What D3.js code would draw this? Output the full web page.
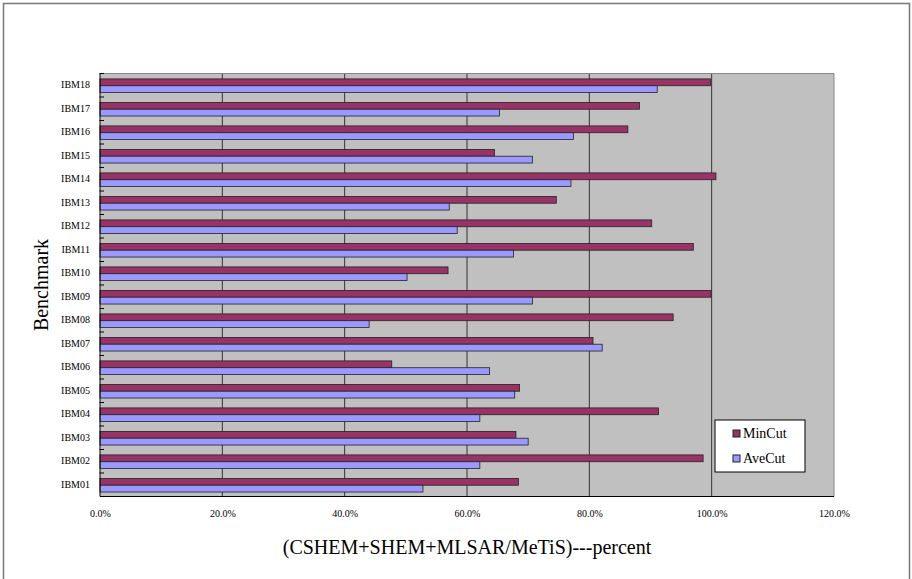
<!DOCTYPE html>
<html>
<head>
<meta charset="utf-8">
<script src="https://cdn.jsdelivr.net/npm/d3@7"></script>
<style>
  body { margin: 0; background: #fff; }
</style>
</head>
<body>
<div id="vis"></div>
<script>
// benchmark chart, MinCut vs AveCut

const FRAME_WIDTH = 912;
const FRAME_HEIGHT = 579;
const MARGINS = {left: 100, right: 78, top: 73.5, bottom: 82.5};
const FONT = "'Liberation Serif', 'DejaVu Serif', serif";

const VIS_WIDTH = FRAME_WIDTH - MARGINS.left - MARGINS.right;
const VIS_HEIGHT = FRAME_HEIGHT - MARGINS.top - MARGINS.bottom;

// data (percent)
const BENCHMARKS = ["IBM01", "IBM02", "IBM03", "IBM04", "IBM05", "IBM06",
                    "IBM07", "IBM08", "IBM09", "IBM10", "IBM11", "IBM12",
                    "IBM13", "IBM14", "IBM15", "IBM16", "IBM17", "IBM18"];
const MIN_CUT = [68.4, 98.6, 68.0, 91.3, 68.6, 47.7, 80.6, 93.7, 99.9,
                 56.9, 97.0, 90.2, 74.6, 100.7, 64.5, 86.3, 88.2, 99.8];
const AVE_CUT = [52.8, 62.1, 70.0, 62.1, 67.8, 63.7, 82.1, 44.0, 70.7,
                 50.2, 67.6, 58.4, 57.1, 77.0, 70.7, 77.4, 65.3, 91.1];
const SERIES = ["MinCut", "AveCut"];
const X_TICKS = [0, 20, 40, 60, 80, 100, 120];

const COLORS = {MinCut: "#993366", AveCut: "#9999ff"};

const data = BENCHMARKS.map((b, i) => {
    return {name: b, MinCut: MIN_CUT[i], AveCut: AVE_CUT[i]};
});

const FRAME = d3.select("#vis")
                .append("svg")
                    .attr("width", FRAME_WIDTH)
                    .attr("height", FRAME_HEIGHT)
                    .style("font-family", FONT);

// outer border
FRAME.append("rect")
    .attr("x", 3.5)
    .attr("y", 3.5)
    .attr("width", 906)
    .attr("height", 580)
    .attr("fill", "#fff")
    .attr("stroke", "#777")
    .attr("stroke-width", 1.5);

const X_SCALE = d3.scaleLinear()
                    .domain([0, 120])
                    .range([0, VIS_WIDTH]);

// IBM01 at bottom
const Y_SCALE = d3.scaleBand()
                    .domain(BENCHMARKS.slice().reverse())
                    .range([0, VIS_HEIGHT]);

const Y_INNER = d3.scaleBand()
                    .domain(SERIES)
                    .range([Y_SCALE.bandwidth() * 0.23, Y_SCALE.bandwidth() * 0.81]);

const G = FRAME.append("g")
            .attr("transform", "translate(" + MARGINS.left + "," + MARGINS.top + ")");

// plot background
G.append("rect")
    .attr("width", VIS_WIDTH)
    .attr("height", VIS_HEIGHT)
    .attr("fill", "#c0c0c0");

// gridlines
G.selectAll(".grid")
    .data(X_TICKS.slice(1, -1))
    .enter()
    .append("line")
        .attr("x1", (d) => X_SCALE(d))
        .attr("x2", (d) => X_SCALE(d))
        .attr("y1", 0)
        .attr("y2", VIS_HEIGHT)
        .attr("stroke", "#333")
        .attr("stroke-width", 1);

// plot frame edges (top/right light)
G.append("line")
    .attr("x1", 0).attr("x2", VIS_WIDTH)
    .attr("y1", 0).attr("y2", 0)
    .attr("stroke", "#888");
G.append("line")
    .attr("x1", VIS_WIDTH).attr("x2", VIS_WIDTH)
    .attr("y1", 0).attr("y2", VIS_HEIGHT)
    .attr("stroke", "#888");

// bars
const groups = G.selectAll(".bench")
    .data(data)
    .enter()
    .append("g")
        .attr("transform", (d) => "translate(0," + Y_SCALE(d.name) + ")");

groups.selectAll("rect")
    .data((d) => SERIES.map((s) => { return {key: s, value: d[s]}; }))
    .enter()
    .append("rect")
        .attr("x", 0)
        .attr("y", (d) => Y_INNER(d.key))
        .attr("width", (d) => X_SCALE(d.value))
        .attr("height", Y_INNER.bandwidth())
        .attr("fill", (d) => COLORS[d.key])
        .attr("stroke", "#222")
        .attr("stroke-width", 0.8);

// y axis
const yAxis = G.append("g")
    .call(d3.axisLeft(Y_SCALE).tickSize(0).tickPadding(10));
yAxis.select(".domain").remove();
yAxis.selectAll("text")
    .style("font-family", FONT)
    .style("font-size", "10px")
    .attr("fill", "#000");

// category boundary ticks
G.selectAll(".ytick")
    .data(BENCHMARKS)
    .enter()
    .append("line")
        .attr("x1", -0.5)
        .attr("x2", 4)
        .attr("y1", (d) => Y_SCALE(d))
        .attr("y2", (d) => Y_SCALE(d))
        .attr("stroke", "#000");

G.append("line")
    .attr("x1", 0).attr("x2", 0)
    .attr("y1", 0).attr("y2", VIS_HEIGHT)
    .attr("stroke", "#000");
G.append("line")
    .attr("x1", 0).attr("x2", VIS_WIDTH)
    .attr("y1", VIS_HEIGHT).attr("y2", VIS_HEIGHT)
    .attr("stroke", "#000");

// x axis labels
const xAxis = G.append("g")
    .attr("transform", "translate(0," + VIS_HEIGHT + ")")
    .call(d3.axisBottom(X_SCALE)
            .tickValues(X_TICKS)
            .tickSize(0)
            .tickPadding(13)
            .tickFormat((d) => d.toFixed(1) + "%"));
xAxis.select(".domain").remove();
xAxis.selectAll("text")
    .style("font-family", FONT)
    .style("font-size", "10px")
    .attr("fill", "#000");

// axis titles
FRAME.append("text")
    .attr("transform", "translate(48,285) rotate(-90)")
    .attr("text-anchor", "middle")
    .style("font-family", FONT)
    .style("font-size", "20px")
    .text("Benchmark");

FRAME.append("text")
    .attr("x", 467)
    .attr("y", 554)
    .attr("text-anchor", "middle")
    .style("font-family", FONT)
    .style("font-size", "20px")
    .text("(CSHEM+SHEM+MLSAR/MeTiS)---percent");

// legend
const LEGEND = FRAME.append("g")
    .attr("transform", "translate(715,420)");

LEGEND.append("rect")
    .attr("width", 90)
    .attr("height", 52)
    .attr("fill", "#fff")
    .attr("stroke", "#000");

SERIES.forEach((s, i) => {
    LEGEND.append("rect")
        .attr("x", 18)
        .attr("y", 10 + i * 25)
        .attr("width", 7)
        .attr("height", 7)
        .attr("fill", COLORS[s])
        .attr("stroke", "#222");
    LEGEND.append("text")
        .attr("x", 28)
        .attr("y", 18 + i * 25)
        .style("font-family", FONT)
        .style("font-size", "14px")
        .text(s);
});
</script>
</body>
</html>
